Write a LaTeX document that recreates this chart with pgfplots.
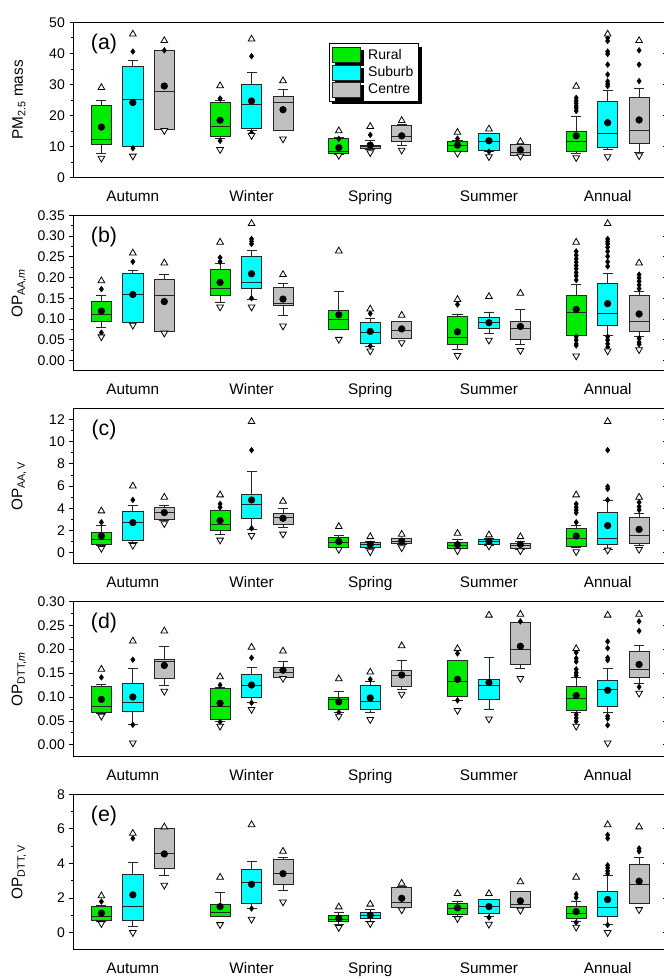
\documentclass[border=0pt]{standalone}
\usepackage{pgfplots}
\pgfplotsset{compat=1.18}
\usepgfplotslibrary{statistics}
\usetikzlibrary{shadows}
\usepackage{fontspec}
\setmainfont{Liberation Sans}
\definecolor{rural}{RGB}{0,235,0}
\definecolor{suburb}{RGB}{0,255,255}
\definecolor{centre}{RGB}{192,192,192}
% #1 position, #2 colour, #3 lower whisker, #4 q1, #5 median, #6 q3, #7 upper whisker
\newcommand{\bx}[7]{\addplot[draw=black!85, fill=#2, line width=0.6pt, boxplot/draw direction=y, boxplot prepared={draw position=#1, lower whisker=#3, lower quartile=#4, median=#5, upper quartile=#6, upper whisker=#7, box extend=0.17, whisker extend=0.085}] coordinates {};}
\tikzset{plab/.style={font=\fontsize{16}{18}\selectfont, anchor=center}}
\pgfplotsset{
 panel/.style={scale only axis, width=445.125pt, height=116.625pt, anchor=north west,
   xmin=0.5, xmax=5.5, xtick={1,2,3,4,5}, xticklabels={Autumn,Winter,Spring,Summer,Annual},
   xtick style={draw=none}, xtick pos=bottom, ytick pos=left, tick align=outside,
   major tick length=3pt, minor tick length=1.8pt, minor y tick num=1,
   axis line style={line width=0.8pt}, every tick/.append style={black, line width=0.6pt},
   ylabel style={at={(axis description cs:-0.092,0.5)}, anchor=center, font=\fontsize{11.5}{13}\selectfont},
   yticklabel style={font=\fontsize{10.5}{12}\selectfont},
   xticklabel style={font=\fontsize{11.5}{13}\selectfont, yshift=-3pt},
   /pgf/number format/assume math mode=true, clip=false},
 rax/.style={scale only axis, width=445.125pt, height=116.625pt, anchor=north west,
   xmin=0.5, xmax=5.5, axis x line=none, axis y line*=right, yticklabels={},
   minor y tick num=1, tick align=inside, major tick length=3pt, minor tick length=1.8pt,
   every tick/.append style={black, line width=0.6pt}, y axis line style={draw=none}},
 outl/.style={only marks, mark=diamond*, mark size=2.1pt, black, mark options={fill=black}},
 maxm/.style={only marks, mark=triangle*, mark size=2.9pt, mark options={fill=white, draw=black, line width=0.6pt}},
 minm/.style={only marks, mark=triangle*, mark size=2.9pt, mark options={fill=white, draw=black, line width=0.6pt, rotate=180}},
 meanm/.style={only marks, mark=*, mark size=2.5pt, black},
 dec/.style={yticklabel style={/pgf/number format/.cd, fixed, fixed zerofill, precision=2}}
}
\begin{document}
\begin{tikzpicture}
\path[use as bounding box] (0,0) rectangle (498pt,-734.25pt);
% ---------------- (a)
\begin{axis}[panel, at={(55.125pt,-16.725pt)}, ymin=0, ymax=50, ytick={0,10,...,50},
  ylabel={PM\textsubscript{2.5} mass},
  legend style={at={(rel axis cs:0.4305,0.865)}, anchor=north west, font=\fontsize{10.5}{12.5}\selectfont,
   draw=black, line width=0.6pt, fill=white, row sep=0pt, inner sep=2pt,
   /tikz/every odd column/.append style={column sep=3.5pt},
   drop shadow={shadow xshift=2.2pt, shadow yshift=-2.2pt, fill=black, opacity=1}},
  legend cell align=left]
\addlegendimage{legend image code/.code={\draw[draw=black!85, fill=rural, line width=0.6pt] (0pt,-5.5pt) rectangle (21pt,5.5pt);}}
\addlegendentry{Rural}
\addlegendimage{legend image code/.code={\draw[draw=black!85, fill=suburb, line width=0.6pt] (0pt,-5.5pt) rectangle (21pt,5.5pt);}}
\addlegendentry{Suburb}
\addlegendimage{legend image code/.code={\draw[draw=black!85, fill=centre, line width=0.6pt] (0pt,-5.5pt) rectangle (21pt,5.5pt);}}
\addlegendentry{Centre}
\bx{0.735}{rural}{7.8}{10.6}{12.5}{23.4}{24.8}
\bx{1}{suburb}{10.8}{10.2}{25.3}{35.9}{37.6}
\bx{1.265}{centre}{17.8}{15.6}{27.9}{41.0}{41.0}
\bx{1.735}{rural}{12.6}{13.4}{16.6}{24.1}{24.8}
\bx{2}{suburb}{15.3}{16.0}{23.6}{29.9}{33.9}
\bx{2.265}{centre}{15.3}{15.3}{24.3}{26.1}{28.5}
\bx{2.735}{rural}{7.6}{7.8}{8.5}{12.7}{13.0}
\bx{3}{suburb}{9.1}{9.3}{10.0}{10.5}{11.9}
\bx{3.265}{centre}{10.5}{11.7}{13.3}{16.9}{17.1}
\bx{3.735}{rural}{8.4}{8.6}{10.5}{11.7}{11.9}
\bx{4}{suburb}{8.6}{8.9}{11.7}{14.2}{14.2}
\bx{4.265}{centre}{7.3}{7.3}{8.1}{10.6}{10.6}
\bx{4.735}{rural}{7.8}{8.6}{11.6}{14.9}{19.9}
\bx{5}{suburb}{9.0}{9.7}{14.3}{24.6}{28.1}
\bx{5.265}{centre}{8.1}{11.0}{15.4}{26.0}{28.9}
\addplot[outl] coordinates {(1,40.6) (1,9.5) (1.265,41.0) (1.735,25.5) (1.735,11.9) (2,39.1) (2,14.4)
 (2.735,12.5) (3,13.8) (3.735,12.6) (4,8.4)
 (4.735,25.7) (4.735,24.8) (4.735,24.0) (4.735,23.1) (4.735,22.4) (4.735,21.5)
 (5,45.0) (5,44.0) (5,40.6) (5,39.8) (5,36.4) (5,33.2) (5,31.0) (5,30.2) (5,29.5)
 (5.265,41.0) (5.265,36.4) (5.265,31.1)};
\addplot[maxm] coordinates {(0.735,29.0) (1,46.2) (1.265,44.1) (1.735,29.6) (2,44.6) (2.265,31.2)
 (2.735,15.1) (3,16.5) (3.265,18.4) (3.735,14.6) (4,15.7) (4.265,11.6) (4.735,29.4) (5,46.2) (5.265,44.1)};
\addplot[minm] coordinates {(0.735,6.3) (1,7.0) (1.265,15.2) (1.735,9.1) (2,13.6) (2.265,12.5)
 (2.735,7.2) (3,8.1) (3.265,8.9) (3.735,7.9) (4,6.8) (4.265,7.0) (4.735,6.5) (5,6.8) (5.265,7.1)};
\addplot[meanm] coordinates {(0.735,16.3) (1,24.2) (1.265,29.5) (1.735,18.5) (2,24.7) (2.265,21.9)
 (2.735,9.7) (3,10.5) (3.265,13.5) (3.735,10.5) (4,11.9) (4.265,9.0) (4.735,13.5) (5,17.7) (5.265,18.6)};
\node[plab] at (rel axis cs:0.0514,0.86) {(a)};
\end{axis}
\begin{axis}[rax, at={(55.125pt,-16.725pt)}, ymin=0, ymax=50, ytick={0,10,...,50}]
\end{axis}
% ---------------- (b)
\begin{axis}[panel, dec, at={(55.125pt,-161.475pt)}, ymin=-0.025, ymax=0.35, ytick={0,0.05,...,0.35},
  ylabel={OP\textsubscript{AA,\textit{m}}}]
\bx{0.735}{rural}{0.079}{0.093}{0.111}{0.143}{0.158}
\bx{1}{suburb}{0.097}{0.092}{0.159}{0.210}{0.218}
\bx{1.265}{centre}{0.078}{0.070}{0.157}{0.196}{0.207}
\bx{1.735}{rural}{0.141}{0.157}{0.173}{0.220}{0.233}
\bx{2}{suburb}{0.147}{0.174}{0.189}{0.251}{0.265}
\bx{2.265}{centre}{0.108}{0.132}{0.137}{0.177}{0.185}
\bx{2.735}{rural}{0.074}{0.074}{0.099}{0.120}{0.167}
\bx{3}{suburb}{0.035}{0.040}{0.067}{0.092}{0.102}
\bx{3.265}{centre}{0.052}{0.054}{0.072}{0.095}{0.095}
\bx{3.735}{rural}{0.026}{0.039}{0.055}{0.106}{0.112}
\bx{4}{suburb}{0.065}{0.078}{0.091}{0.103}{0.117}
\bx{4.265}{centre}{0.038}{0.050}{0.078}{0.095}{0.123}
\bx{4.735}{rural}{0.060}{0.061}{0.117}{0.156}{0.184}
\bx{5}{suburb}{0.061}{0.084}{0.113}{0.185}{0.210}
\bx{5.265}{centre}{0.058}{0.070}{0.095}{0.157}{0.167}
\addplot[outl] coordinates {(0.735,0.172) (0.735,0.067) (1,0.238) (1.735,0.248) (1.735,0.238)
 (2,0.293) (2,0.287) (2,0.281) (2,0.150) (3,0.113) (3,0.035) (3.735,0.135)
 (4.735,0.263) (4.735,0.254) (4.735,0.245) (4.735,0.237) (4.735,0.229) (4.735,0.221) (4.735,0.212) (4.735,0.204) (4.735,0.194)
 (4.735,0.057) (4.735,0.049) (4.735,0.040) (4.735,0.036)
 (5,0.293) (5,0.287) (5,0.281) (5,0.273) (5,0.263) (5,0.251) (5,0.238) (5,0.227)
 (5,0.057) (5,0.049) (5,0.040) (5,0.032)
 (5.265,0.207) (5.265,0.199) (5.265,0.191) (5.265,0.182) (5.265,0.173) (5.265,0.053) (5.265,0.044) (5.265,0.039)};
\addplot[maxm] coordinates {(0.735,0.192) (1,0.259) (1.265,0.235) (1.735,0.285) (2,0.330) (2.265,0.207)
 (2.735,0.264) (3,0.124) (3.265,0.109) (3.735,0.147) (4,0.154) (4.265,0.162) (4.735,0.285) (5,0.330) (5.265,0.235)};
\addplot[minm] coordinates {(0.735,0.057) (1,0.085) (1.265,0.066) (1.735,0.129) (2,0.129) (2.265,0.083)
 (2.735,0.051) (3,0.023) (3.265,0.043) (3.735,0.012) (4,0.049) (4.265,0.024) (4.735,0.011) (5,0.023) (5.265,0.026)};
\addplot[meanm] coordinates {(0.735,0.119) (1,0.159) (1.265,0.142) (1.735,0.188) (2,0.209) (2.265,0.148)
 (2.735,0.110) (3,0.070) (3.265,0.076) (3.735,0.069) (4,0.091) (4.265,0.082) (4.735,0.123) (5,0.137) (5.265,0.112)};
\node[plab] at (rel axis cs:0.0514,0.86) {(b)};
\end{axis}
\begin{axis}[rax, at={(55.125pt,-161.475pt)}, ymin=-0.025, ymax=0.35, ytick={0,0.05,...,0.35}]
\end{axis}
% ---------------- (c)
\begin{axis}[panel, at={(55.125pt,-306.225pt)}, ymin=-1, ymax=13, ytick={0,2,...,12},
  ylabel={OP\textsubscript{AA,\,V}}]
\bx{0.735}{rural}{0.70}{0.75}{1.23}{1.80}{2.44}
\bx{1}{suburb}{0.93}{1.11}{2.71}{3.70}{4.24}
\bx{1.265}{centre}{2.89}{3.04}{3.67}{4.09}{4.30}
\bx{1.735}{rural}{1.68}{2.05}{2.53}{3.79}{3.85}
\bx{2}{suburb}{2.10}{3.07}{4.36}{5.26}{7.34}
\bx{2.265}{centre}{2.26}{2.56}{3.16}{3.58}{3.97}
\bx{2.735}{rural}{0.45}{0.48}{0.95}{1.35}{1.53}
\bx{3}{suburb}{0.40}{0.45}{0.72}{0.93}{1.00}
\bx{3.265}{centre}{0.78}{0.81}{1.05}{1.26}{1.30}
\bx{3.735}{rural}{0.35}{0.42}{0.62}{0.93}{1.20}
\bx{4}{suburb}{0.70}{0.72}{1.02}{1.23}{1.28}
\bx{4.265}{centre}{0.33}{0.36}{0.65}{0.87}{1.00}
\bx{4.735}{rural}{0.45}{0.55}{1.25}{2.15}{2.45}
\bx{5}{suburb}{0.30}{0.75}{1.32}{3.64}{4.75}
\bx{5.265}{centre}{0.66}{0.84}{1.59}{3.16}{3.55}
\addplot[outl] coordinates {(0.735,2.74) (1,4.75) (1.735,4.39) (1.735,4.09) (2,9.23) (2,2.2)
 (4.735,4.39) (4.735,4.09) (4.735,3.85) (4.735,3.6) (4.735,2.74)
 (5,9.23) (5,5.95) (5,5.75) (5,4.75) (5.265,4.54) (5.265,4.15) (5.265,3.85)};
\addplot[maxm] coordinates {(0.735,3.76) (1,6.0) (1.265,4.99) (1.735,5.2) (2,11.8) (2.265,4.63)
 (2.735,2.35) (3,1.44) (3.265,1.65) (3.735,1.74) (4,1.6) (4.265,1.44) (4.735,5.2) (5,11.8) (5.265,4.99)};
\addplot[minm] coordinates {(0.735,0.39) (1,0.66) (1.265,2.62) (1.735,1.14) (2,1.56) (2.265,1.68)
 (2.735,0.30) (3,0.09) (3.265,0.45) (3.735,0.18) (4,0.6) (4.265,0.18) (4.735,0.1) (5,0.24) (5.265,0.3)};
\addplot[meanm] coordinates {(0.735,1.50) (1,2.71) (1.265,3.61) (1.735,2.89) (2,4.75) (2.265,3.10)
 (2.735,1.00) (3,0.75) (3.265,1.05) (3.735,0.72) (4,1.02) (4.265,0.75) (4.735,1.50) (5,2.44) (5.265,2.10)};
\node[plab] at (rel axis cs:0.0514,0.86) {(c)};
\end{axis}
\begin{axis}[rax, at={(55.125pt,-306.225pt)}, ymin=-1, ymax=13, ytick={0,2,...,12}]
\end{axis}
% ---------------- (d)
\begin{axis}[panel, dec, at={(55.125pt,-450.975pt)}, ymin=-0.025, ymax=0.30, ytick={0,0.05,...,0.30},
  ylabel={OP\textsubscript{DTT,\textit{m}}}]
\bx{0.735}{rural}{0.065}{0.068}{0.080}{0.122}{0.126}
\bx{1}{suburb}{0.042}{0.070}{0.088}{0.129}{0.159}
\bx{1.265}{centre}{0.125}{0.139}{0.175}{0.179}{0.205}
\bx{1.735}{rural}{0.048}{0.053}{0.081}{0.118}{0.120}
\bx{2}{suburb}{0.088}{0.100}{0.125}{0.148}{0.161}
\bx{2.265}{centre}{0.142}{0.142}{0.151}{0.161}{0.175}
\bx{2.735}{rural}{0.068}{0.075}{0.095}{0.100}{0.111}
\bx{3}{suburb}{0.067}{0.075}{0.090}{0.125}{0.132}
\bx{3.265}{centre}{0.116}{0.122}{0.146}{0.156}{0.177}
\bx{3.735}{rural}{0.093}{0.102}{0.132}{0.177}{0.177}
\bx{4}{suburb}{0.075}{0.095}{0.124}{0.137}{0.183}
\bx{4.265}{centre}{0.159}{0.168}{0.200}{0.256}{0.252}
\bx{4.735}{rural}{0.067}{0.071}{0.098}{0.123}{0.140}
\bx{5}{suburb}{0.067}{0.081}{0.116}{0.135}{0.159}
\bx{5.265}{centre}{0.128}{0.142}{0.157}{0.196}{0.208}
\addplot[outl] coordinates {(0.735,0.141) (1,0.178) (1,0.042) (1.735,0.125) (1.735,0.048) (2,0.182) (2,0.088)
 (2.735,0.068) (3,0.137) (3.735,0.191) (3.735,0.093) (4.265,0.258)
 (4.735,0.193) (4.735,0.181) (4.735,0.174) (4.735,0.158) (4.735,0.151) (4.735,0.145) (4.735,0.063) (4.735,0.056) (4.735,0.049)
 (5,0.216) (5,0.202) (5,0.182) (5,0.177) (5,0.060) (5,0.055) (5,0.041)
 (5.265,0.258) (5.265,0.238) (5.265,0.121)};
\addplot[maxm] coordinates {(0.735,0.158) (1,0.217) (1.265,0.238) (1.735,0.142) (2,0.204) (2.265,0.196)
 (2.735,0.138) (3,0.152) (3.265,0.207) (3.735,0.201) (4,0.271) (4.265,0.273) (4.735,0.201) (5,0.271) (5.265,0.273)};
\addplot[minm] coordinates {(0.735,0.060) (1,0.004) (1.265,0.112) (1.735,0.039) (2,0.074) (2.265,0.139)
 (2.735,0.060) (3,0.053) (3.265,0.106) (3.735,0.072) (4,0.054) (4.265,0.139) (4.735,0.039) (5,0.004) (5.265,0.108)};
\addplot[meanm] coordinates {(0.735,0.095) (1,0.100) (1.265,0.166) (1.735,0.087) (2,0.125) (2.265,0.156)
 (2.735,0.090) (3,0.098) (3.265,0.146) (3.735,0.137) (4,0.130) (4.265,0.206) (4.735,0.103) (5,0.114) (5.265,0.168)};
\node[plab] at (rel axis cs:0.0514,0.86) {(d)};
\end{axis}
\begin{axis}[rax, at={(55.125pt,-450.975pt)}, ymin=-0.025, ymax=0.30, ytick={0,0.05,...,0.30}]
\end{axis}
% ---------------- (e)
\begin{axis}[panel, at={(55.125pt,-595.725pt)}, ymin=-1, ymax=8, ytick={0,2,...,8},
  ylabel={OP\textsubscript{DTT,\,V}}]
\bx{0.735}{rural}{0.67}{0.73}{0.94}{1.50}{1.58}
\bx{1}{suburb}{0.33}{0.73}{1.52}{3.35}{4.05}
\bx{1.265}{centre}{3.33}{3.70}{4.60}{6.00}{5.84}
\bx{1.735}{rural}{0.91}{0.91}{1.14}{1.62}{2.31}
\bx{2}{suburb}{1.39}{1.66}{2.89}{3.64}{4.14}
\bx{2.265}{centre}{2.43}{2.76}{3.41}{4.22}{4.35}
\bx{2.735}{rural}{0.48}{0.62}{0.77}{1.02}{1.19}
\bx{3}{suburb}{0.67}{0.81}{1.00}{1.19}{1.35}
\bx{3.265}{centre}{1.45}{1.45}{1.73}{2.60}{2.66}
\bx{3.735}{rural}{0.96}{1.06}{1.39}{1.68}{1.83}
\bx{4}{suburb}{0.91}{1.10}{1.50}{1.91}{1.93}
\bx{4.265}{centre}{1.45}{1.45}{1.62}{2.37}{2.39}
\bx{4.735}{rural}{0.67}{0.79}{1.10}{1.54}{1.83}
\bx{5}{suburb}{0.48}{0.96}{1.45}{2.39}{3.28}
\bx{5.265}{centre}{1.66}{1.66}{2.77}{3.97}{4.34}
\addplot[outl] coordinates {(0.735,1.79) (1,5.45) (2,1.39) (4,0.87)
 (4.735,2.22) (4.735,2.02) (4.735,0.58)
 (5,5.65) (5,5.45) (5,3.89) (5,3.74) (5,3.56) (5,3.41) (5,0.44)
 (5.265,4.87) (5.265,4.70)};
\addplot[maxm] coordinates {(0.735,2.12) (1,5.74) (1.265,6.11) (1.735,3.2) (2,6.24) (2.265,4.70)
 (2.735,1.48) (3,1.64) (3.265,2.85) (3.735,2.25) (4,2.25) (4.265,2.93) (4.735,3.2) (5,6.24) (5.265,6.11)};
\addplot[minm] coordinates {(0.735,0.52) (1,0.0) (1.265,2.74) (1.735,0.46) (2,0.77) (2.265,1.77)
 (2.735,0.29) (3,0.52) (3.265,1.31) (3.735,0.81) (4,0.48) (4.265,1.29) (4.735,0.31) (5,0.0) (5.265,1.33)};
\addplot[meanm] coordinates {(0.735,1.12) (1,2.18) (1.265,4.55) (1.735,1.50) (2,2.79) (2.265,3.41)
 (2.735,0.83) (3,1.00) (3.265,1.98) (3.735,1.43) (4,1.50) (4.265,1.83) (4.735,1.21) (5,1.91) (5.265,2.97)};
\node[plab] at (rel axis cs:0.0514,0.86) {(e)};
\end{axis}
\begin{axis}[rax, at={(55.125pt,-595.725pt)}, ymin=-1, ymax=8, ytick={0,2,...,8}]
\end{axis}
\end{tikzpicture}
\end{document}
